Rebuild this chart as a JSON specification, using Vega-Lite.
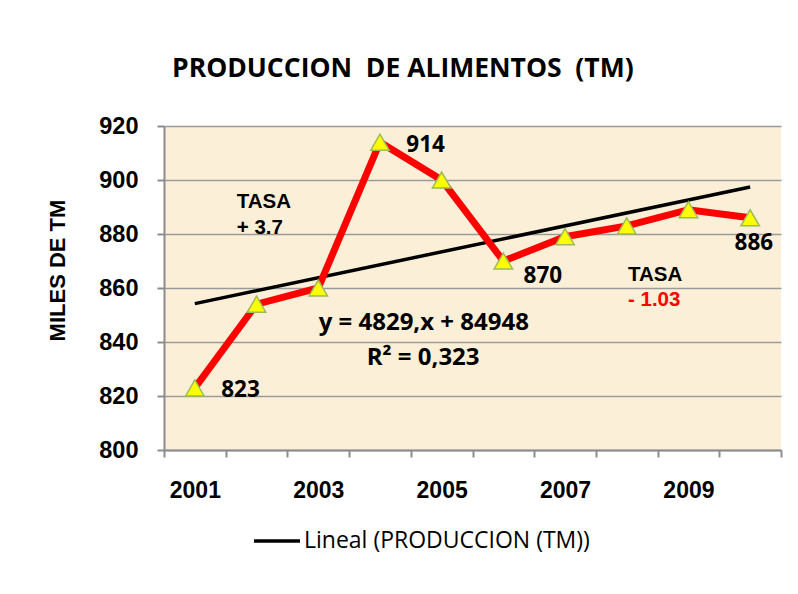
{
  "$schema": "https://vega.github.io/schema/vega-lite/v6.json",
  "width": 617,
  "height": 324,
  "autosize": "none",
  "padding": {"left": 164, "top": 126, "right": 17, "bottom": 144},
  "background": "white",
  "config": {
    "view": {"fill": "#FBEFD7", "stroke": null}
  },
  "title": {
    "text": "PRODUCCION\u00a0 DE ALIMENTOS\u00a0 (TM)",
    "frame": "group",
    "anchor": "start",
    "dx": 8,
    "offset": 32,
    "font": "Open Sans",
    "fontSize": 26.5,
    "fontWeight": "bold",
    "color": "black"
  },
  "datasets": {
    "produccion": [
      {"year": 2001, "value": 823},
      {"year": 2002, "value": 854},
      {"year": 2003, "value": 860},
      {"year": 2004, "value": 914},
      {"year": 2005, "value": 900},
      {"year": 2006, "value": 870},
      {"year": 2007, "value": 879},
      {"year": 2008, "value": 883},
      {"year": 2009, "value": 889},
      {"year": 2010, "value": 886}
    ],
    "etiquetas": [
      {"year": 2004.74, "value": 913.1, "texto": "914"},
      {"year": 2001.74, "value": 822.4, "texto": "823"},
      {"year": 2006.64, "value": 864.4, "texto": "870"},
      {"year": 2010.06, "value": 876.7, "texto": "886"}
    ],
    "tasas": [
      {"year": 2001.68, "value": 891.9, "texto": "TASA", "tipo": "titulo"},
      {"year": 2001.68, "value": 882.4, "texto": "+ 3.7", "tipo": "positivo"},
      {"year": 2008.02, "value": 864.8, "texto": "TASA", "tipo": "titulo"},
      {"year": 2008.02, "value": 855.6, "texto": "- 1.03", "tipo": "negativo"}
    ],
    "ecuacion": [
      {"year": 2004.71, "value": 847.0, "texto": "y = 4829,x + 84948"},
      {"year": 2004.7, "value": 834.1, "texto": "R² = 0,323"}
    ]
  },
  "encoding": {
    "x": {
      "field": "year",
      "type": "quantitative",
      "scale": {"domain": [2000.5, 2010.5], "nice": false, "zero": false},
      "axis": {
        "title": null,
        "values": [2000.5, 2001.5, 2002.5, 2003.5, 2004.5, 2005.5, 2006.5, 2007.5, 2008.5, 2009.5, 2010.5],
        "labelExpr": "(datum.value + 0.5) % 2 == 1 && datum.value < 2010 ? format(datum.value + 0.5, 'd') : ''",
        "labelOffset": 30.85,
        "labelOverlap": false,
        "labelFlush": false,
        "labelBound": false,
        "labelFont": "Liberation Sans",
        "labelFontSize": 23,
        "labelFontWeight": "bold",
        "labelColor": "black",
        "labelPadding": 22,
        "grid": false,
        "ticks": true,
        "tickSize": 7,
        "tickColor": "#8c8c8c",
        "tickWidth": 2,
        "domainColor": "#8c8c8c",
        "domainWidth": 2
      }
    },
    "y": {
      "field": "value",
      "type": "quantitative",
      "scale": {"domain": [800, 920], "nice": false, "zero": false},
      "axis": {
        "title": "MILES DE TM",
        "titleFont": "Liberation Sans",
        "titleFontSize": 22,
        "titleFontWeight": "bold",
        "titleColor": "black",
        "titleX": -95,
        "titleY": 144,
        "values": [800, 820, 840, 860, 880, 900, 920],
        "labelFont": "Liberation Sans",
        "labelFontSize": 23.5,
        "labelFontWeight": "bold",
        "labelColor": "black",
        "labelPadding": 19,
        "labelOverlap": false,
        "labelFlush": false,
        "tickSize": 7,
        "tickColor": "#8c8c8c",
        "tickWidth": 2,
        "domainColor": "#8c8c8c",
        "domainWidth": 2,
        "grid": true,
        "gridColor": "#9a9a9a",
        "gridWidth": 1.5
      }
    }
  },
  "layer": [
    {
      "data": {"name": "produccion"},
      "transform": [{"regression": "value", "on": "year", "method": "linear"}],
      "mark": {"type": "line", "strokeWidth": 3.5},
      "encoding": {
        "stroke": {
          "datum": "Lineal (PRODUCCION (TM))",
          "type": "nominal",
          "scale": {"range": ["black"]},
          "legend": {
            "title": null,
            "orient": "none",
            "legendX": 88,
            "legendY": 390,
            "padding": 0,
            "symbolType": "stroke",
            "symbolSize": 2116,
            "symbolStrokeWidth": 3.5,
            "symbolStrokeColor": "black",
            "labelFont": "Open Sans",
            "labelFontSize": 23,
            "labelColor": "black",
            "labelOffset": 2,
            "labelLimit": 500
          }
        }
      }
    },
    {
      "data": {"name": "produccion"},
      "mark": {"type": "line", "color": "#FF0000", "strokeWidth": 7}
    },
    {
      "data": {"name": "produccion"},
      "mark": {"type": "point", "shape": "triangle-up", "size": 340, "filled": true, "fill": "#FFFF00", "stroke": "#9BBB59", "strokeWidth": 1.5, "opacity": 1}
    },
    {
      "data": {"name": "etiquetas"},
      "mark": {"type": "text", "align": "center", "baseline": "middle", "font": "Open Sans", "fontSize": 22.5, "fontWeight": "bold", "color": "black"},
      "encoding": {"text": {"field": "texto"}}
    },
    {
      "data": {"name": "tasas"},
      "transform": [{"filter": "datum.tipo != 'negativo'"}],
      "mark": {"type": "text", "align": "left", "baseline": "middle", "font": "Liberation Sans", "fontSize": 20.5, "fontWeight": "bold", "color": "black"},
      "encoding": {"text": {"field": "texto"}}
    },
    {
      "data": {"name": "tasas"},
      "transform": [{"filter": "datum.tipo == 'negativo'"}],
      "mark": {"type": "text", "align": "left", "baseline": "middle", "font": "Liberation Sans", "fontSize": 20.5, "fontWeight": "bold", "color": "#FF0000"},
      "encoding": {"text": {"field": "texto"}}
    },
    {
      "data": {"name": "ecuacion"},
      "mark": {"type": "text", "align": "center", "baseline": "middle", "font": "Open Sans", "fontSize": 24, "fontWeight": "bold", "color": "black"},
      "encoding": {"text": {"field": "texto"}}
    }
  ]
}
